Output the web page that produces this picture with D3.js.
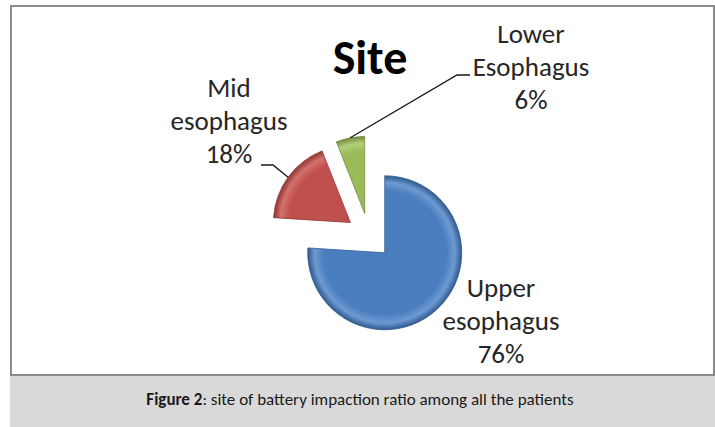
<!DOCTYPE html>
<html>
<head>
<meta charset="utf-8">
<script src="https://cdn.jsdelivr.net/npm/d3@7"></script>
<style>
  body { margin: 0; background: #fff; }
  .lbl { font-family: Calibri, Carlito, Lato, sans-serif; font-size: 27px; fill: #262626; }
</style>
</head>
<body>
<svg id="chart" width="715" height="427"></svg>
<script>
// data
var categories = ["Upper esophagus", "Mid esophagus", "Lower Esophagus"];
var values = [76, 18, 6];
var labelLines = [["Upper", "esophagus", "76%"], ["Mid", "esophagus", "18%"], ["Lower", "Esophagus", "6%"]];
var colors = ["#4a7ebf", "#c0504d", "#9bbb59"];
var rimColors = ["#2f5a8f", "#8e3532", "#71893c"];
var lightColors = ["#6d9ad2", "#d2716e", "#b3cf7a"];

var width = 715, height = 427;
var cx = 369, cy = 236, radius = 77, explode = 23;

var svg = d3.select("#chart");

// ---------------------------//
//       FRAME                //
// ---------------------------//
svg.append("rect")
  .attr("x", 10).attr("y", 375).attr("width", 705).attr("height", 52)
  .attr("fill", "#d9d9d9");

svg.append("rect")
  .attr("x", 11).attr("y", 6).attr("width", 703).attr("height", 369)
  .attr("fill", "#fff")
  .attr("stroke", "#8a8a8a").attr("stroke-width", 2);

// caption
var cap = svg.append("text")
  .attr("x", 360).attr("y", 405)
  .attr("text-anchor", "middle")
  .style("font-family", "Calibri, Carlito, Lato, sans-serif")
  .style("font-size", "17px")
  .attr("fill", "#1a1a1a");
cap.append("tspan").style("font-weight", "bold").text("Figure 2");
cap.append("tspan").text(": site of battery impaction ratio among all the patients");

// title
svg.append("text")
  .attr("x", 370).attr("y", 74)
  .attr("text-anchor", "middle")
  .style("font-family", "Calibri, Carlito, Lato, sans-serif")
  .style("font-size", "48px")
  .style("font-weight", "bold")
  .attr("fill", "#000")
  .text("Site");

// ---------------------------//
//       PIE                  //
// ---------------------------//
var defs = svg.append("defs");
colors.forEach(function(c, i) {
  var g = defs.append("radialGradient")
    .attr("id", "grad" + i)
    .attr("gradientUnits", "userSpaceOnUse")
    .attr("cx", 0).attr("cy", 0).attr("r", radius);
  g.append("stop").attr("offset", "0%").attr("stop-color", c);
  g.append("stop").attr("offset", "80%").attr("stop-color", c);
  g.append("stop").attr("offset", "91%").attr("stop-color", lightColors[i]);
  g.append("stop").attr("offset", "100%").attr("stop-color", rimColors[i]);
});

var pie = d3.pie().sort(null).value(function(d) { return d; });
var arcs = pie(values);
var arc = d3.arc().innerRadius(0).outerRadius(radius);

function offset(d, r) {
  var a = (d.startAngle + d.endAngle) / 2;
  return [r * Math.sin(a), -r * Math.cos(a)];
}

var slices = svg.append("g")
  .attr("transform", "translate(" + cx + "," + cy + ")")
  .selectAll("g")
  .data(arcs)
  .enter()
  .append("g")
  .attr("transform", function(d) { var o = offset(d, explode); return "translate(" + o[0] + "," + o[1] + ")"; });

slices.append("path")
  .attr("d", arc)
  .attr("fill", function(d, i) { return "url(#grad" + i + ")"; })
  .attr("stroke", function(d, i) { return rimColors[i]; })
  .attr("stroke-width", 0.8);

// ---------------------------//
//       LABELS               //
// ---------------------------//
var labelPos = [[501, 297], [229, 97], [531, 43]];
var lineH = 33;

labelLines.forEach(function(lines, i) {
  var t = svg.append("text")
    .attr("class", "lbl")
    .attr("text-anchor", "middle");
  lines.forEach(function(s, j) {
    t.append("tspan")
      .attr("x", labelPos[i][0])
      .attr("y", labelPos[i][1] + j * lineH)
      .text(s);
  });
});

// leader lines: from label to slice outer mid point
var leaders = [null, [[261, 165], [273, 165]], [[470, 75], [457, 75]]];
leaders.forEach(function(pts, i) {
  if (!pts) return;
  var d = arcs[i];
  var o = offset(d, explode + radius);
  var end = [cx + o[0], cy + o[1]];
  svg.append("path")
    .attr("d", d3.line()(pts.concat([end])))
    .attr("fill", "none")
    .attr("stroke", "#1a1a1a")
    .attr("stroke-width", 1.4);
});
</script>
</body>
</html>
